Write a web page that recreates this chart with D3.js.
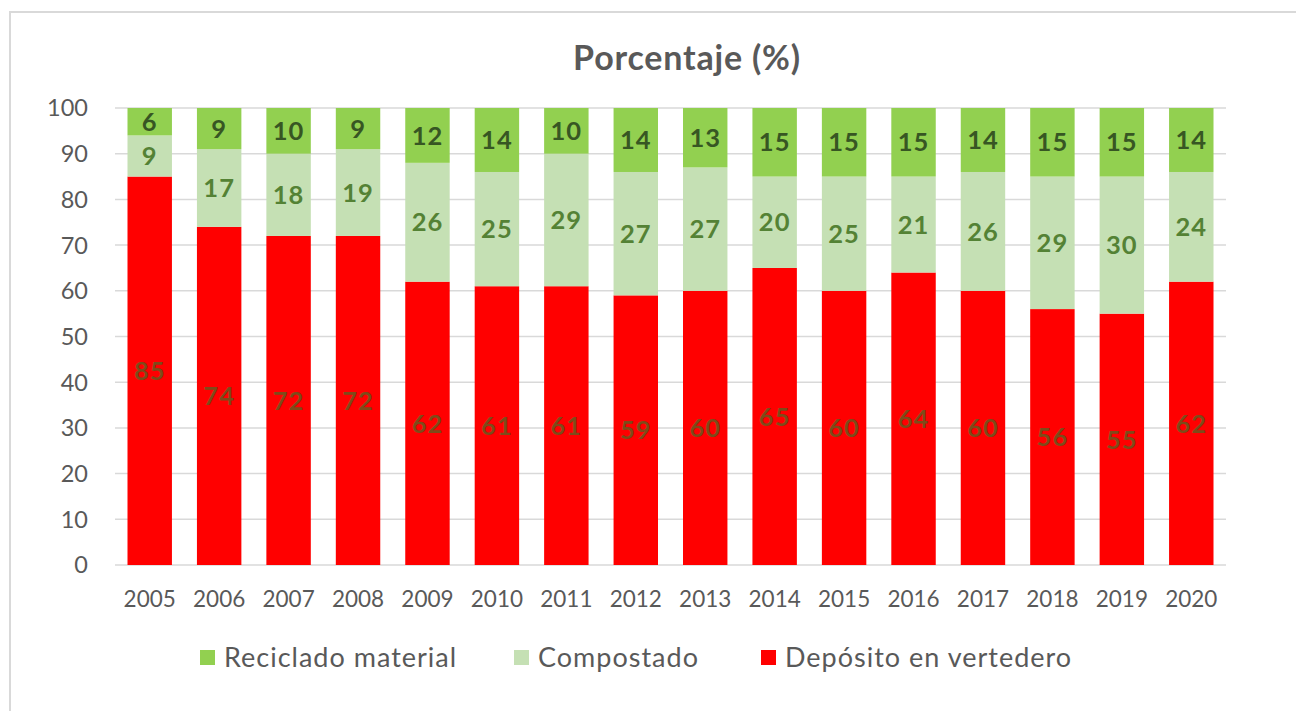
<!DOCTYPE html>
<html>
<head>
<meta charset="utf-8">
<script src="https://cdn.jsdelivr.net/npm/d3@7"></script>
<style>
  html, body { margin: 0; padding: 0; background: #fff; }
  svg { display: block; }
</style>
</head>
<body>
<svg id="chart" width="1296" height="711"></svg>
<script>
const years = ["2005","2006","2007","2008","2009","2010","2011","2012","2013","2014","2015","2016","2017","2018","2019","2020"];
const deposito   = [85, 74, 72, 72, 62, 61, 61, 59, 60, 65, 60, 64, 60, 56, 55, 62];
const compostado = [ 9, 17, 18, 19, 26, 25, 29, 27, 27, 20, 25, 21, 26, 29, 30, 24];
const reciclado  = [ 6,  9, 10,  9, 12, 14, 10, 14, 13, 15, 15, 15, 14, 15, 15, 14];
const yTicks = [0, 10, 20, 30, 40, 50, 60, 70, 80, 90, 100];
const seriesNames = ["Depósito en vertedero", "Compostado", "Reciclado material"];
const legendOrder = ["Reciclado material", "Compostado", "Depósito en vertedero"];
const colors = {"Depósito en vertedero": "#FF0000", "Compostado": "#C5E0B4", "Reciclado material": "#92D050"};
const labelColors = {"Depósito en vertedero": "#7D4B1A", "Compostado": "#548235", "Reciclado material": "#375623"};
const title = "Porcentaje (%)";

const FONT = "Lato, 'Open Sans', sans-serif";
const svg = d3.select("#chart");

// frame
svg.append("rect").attr("x", 10).attr("y", 12).attr("width", 1310).attr("height", 730)
  .attr("fill", "#fff").attr("stroke", "#d9d9d9").attr("stroke-width", 2);

const x = d3.scaleBand().domain(years).range([115, 1226]).paddingInner(0.36).paddingOuter(0.18);
const y = d3.scaleLinear().domain([0, 100]).range([565, 108]);

// gridlines
svg.append("g").selectAll("line").data(yTicks).join("line")
  .attr("x1", 115).attr("x2", 1226)
  .attr("y1", d => y(d)).attr("y2", d => y(d))
  .attr("stroke", "#d9d9d9").attr("stroke-width", 1.5);

// y tick labels
svg.append("g").selectAll("text").data(yTicks).join("text")
  .attr("x", 88).attr("y", d => y(d)).attr("dy", "0.36em")
  .attr("text-anchor", "end").attr("font-family", FONT).attr("font-size", 23.5)
  .attr("fill", "#595959").text(d => d);

// x tick labels
svg.append("g").selectAll("text").data(years).join("text")
  .attr("x", d => x(d) + x.bandwidth() / 2).attr("y", 607)
  .attr("text-anchor", "middle").attr("font-family", FONT).attr("font-size", 22.5)
  .attr("fill", "#595959").text(d => d);

// stacked data
const rows = years.map((yr, i) => ({
  year: yr,
  "Depósito en vertedero": deposito[i],
  "Compostado": compostado[i],
  "Reciclado material": reciclado[i]
}));
const stack = d3.stack().keys(seriesNames)(rows);

const layers = svg.append("g").selectAll("g").data(stack).join("g")
  .attr("fill", d => colors[d.key]);
layers.selectAll("rect").data(d => d).join("rect")
  .attr("x", d => x(d.data.year))
  .attr("width", x.bandwidth())
  .attr("y", d => y(d[1]))
  .attr("height", d => y(d[0]) - y(d[1]));

// labels
const lab = svg.append("g").selectAll("g").data(stack).join("g")
  .attr("fill", d => labelColors[d.key]);
lab.selectAll("text").data(d => d).join("text")
  .attr("x", d => x(d.data.year) + x.bandwidth() / 2)
  .attr("y", d => (y(d[0]) + y(d[1])) / 2)
  .attr("dy", "0.36em")
  .attr("text-anchor", "middle").attr("font-family", FONT).attr("font-weight", "bold")
  .attr("font-size", 25.5).attr("letter-spacing", 1)
  .text(d => d[1] - d[0]);

// title
svg.append("text").attr("x", 687).attr("y", 70).attr("text-anchor", "middle")
  .attr("font-family", FONT).attr("font-weight", "bold").attr("font-size", 34)
  .attr("letter-spacing", 0.8)
  .attr("fill", "#595959").text(title);

// legend
const legendX = [200, 514, 761];
const lg = svg.append("g").selectAll("g").data(legendOrder).join("g")
  .attr("transform", (d, i) => `translate(${legendX[i]},650)`);
lg.append("rect").attr("width", 15).attr("height", 15).attr("fill", d => colors[d]);
lg.append("text").attr("x", 24).attr("y", 17)
  .attr("font-family", FONT).attr("font-size", 27).attr("letter-spacing", 1)
  .attr("fill", "#595959").text(d => d);
</script>
</body>
</html>
